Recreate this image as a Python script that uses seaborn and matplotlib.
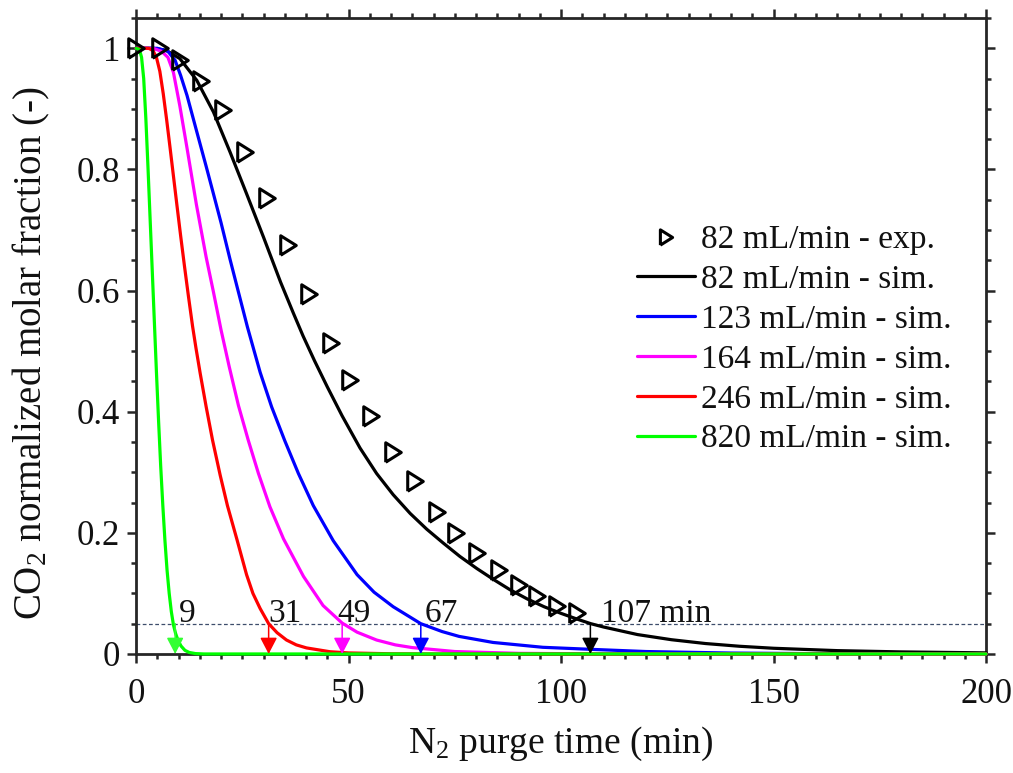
import numpy as np
import pandas as pd
import matplotlib
matplotlib.use("Agg")
import matplotlib.pyplot as plt
from matplotlib.lines import Line2D
import seaborn as sns

# ---------------- data ----------------
exp_t = [0, 5.6, 10.4, 15.4, 20.5, 25.6, 30.7, 35.8, 40.8, 45.9, 50.4, 55.4,
         60.5, 65.6, 70.7, 75.4, 80.3, 85.3, 90.2, 94.4, 99.1, 103.8]
exp_y = [1.0, 1.0, 0.98, 0.946, 0.898, 0.829, 0.752, 0.675, 0.594, 0.514, 0.453,
         0.393, 0.334, 0.286, 0.235, 0.199, 0.166, 0.139, 0.114, 0.095, 0.079, 0.067]

sim82_t = [0, 4, 7, 10.3, 14.3, 18.2, 22.1, 26.0, 30.0, 34.0, 37.0, 39.3, 42.0, 45.0,
           48.5, 52.7, 56.6, 60.5, 64.5, 68.4, 72.3, 76.2, 80.2, 84.1, 88, 92, 96,
           100, 104, 107, 110, 118, 126, 134, 142, 150, 165, 180, 200]
sim82_y = [1.0, 1.0, 0.997, 0.983, 0.947, 0.895, 0.829, 0.760, 0.688, 0.614, 0.563,
           0.525, 0.484, 0.441, 0.393, 0.340, 0.298, 0.263, 0.232, 0.206, 0.183,
           0.161, 0.141, 0.123, 0.106, 0.091, 0.078, 0.067, 0.057, 0.05, 0.0445,
           0.032, 0.0235, 0.0172, 0.0127, 0.0094, 0.0055, 0.0034, 0.0018]

sim123_t = [0, 5, 7.5, 9.2, 10.5, 12, 14.3, 16.5, 18.2, 20, 22.1, 24, 26.2, 29.2, 31.9,
            35, 38.2, 41.7, 46.4, 52, 56, 60.5, 67, 72, 76, 84, 95.7, 107.5, 120,
            140, 160, 200]
sim123_y = [1.0, 1.0, 0.995, 0.98, 0.955, 0.922, 0.862, 0.805, 0.760, 0.712, 0.652,
            0.600, 0.540, 0.465, 0.408, 0.352, 0.298, 0.245, 0.187, 0.131, 0.102,
            0.078, 0.05, 0.037, 0.029, 0.019, 0.011, 0.0075, 0.004, 0.0015, 0.0005, 0.0]

sim164_t = [0, 4, 6, 7.5, 8.8, 10.3, 12, 14.2, 16.5, 18.2, 20, 21.9, 24.1, 26.4, 28.8,
            31.5, 34.7, 39.4, 44, 48.5, 52, 56.6, 61, 65, 75, 90, 110, 200]
sim164_y = [1.0, 1.0, 0.995, 0.985, 0.96, 0.905, 0.835, 0.742, 0.655, 0.598, 0.535,
            0.475, 0.410, 0.353, 0.298, 0.243, 0.190, 0.128, 0.080, 0.051, 0.036,
            0.023, 0.015, 0.0105, 0.004, 0.001, 0.0001, 0.0]

sim246_t = [0, 3, 4.0, 4.8, 5.6, 6.4, 7.2, 8.0, 8.8, 9.6, 10.5, 11.4, 12.3, 13.3, 14.1,
            15.1, 16.5, 18.0, 19.8, 21.5, 23.7, 26, 27.5, 29.2, 31.2, 33.2, 35.4,
            37.7, 40.1, 45.6, 50, 60, 70, 200]
sim246_y = [1.0, 1.0, 0.996, 0.985, 0.962, 0.925, 0.882, 0.836, 0.789, 0.742, 0.690,
            0.640, 0.592, 0.541, 0.505, 0.463, 0.408, 0.353, 0.295, 0.245, 0.190,
            0.131, 0.10, 0.075, 0.05, 0.035, 0.023, 0.015, 0.010, 0.0037, 0.0017,
            0.0003, 0.0, 0.0]

sim820_t = [0, 0.8, 1.3, 1.8, 2.3, 2.8, 3.3, 3.8, 4.3, 4.8, 5.3, 5.8, 6.3, 6.8, 7.3,
            7.8, 8.3, 8.8, 9.3, 9.9, 10.6, 11.5, 12.5, 14, 16, 200]
sim820_y = [1.0, 0.998, 0.985, 0.95, 0.885, 0.805, 0.72, 0.635, 0.55, 0.465, 0.385,
            0.31, 0.245, 0.187, 0.138, 0.100, 0.070, 0.048, 0.034, 0.022, 0.013,
            0.006, 0.0025, 0.0006, 0.0, 0.0]

series_labels = ["82 mL/min - sim.", "123 mL/min - sim.", "164 mL/min - sim.",
                 "246 mL/min - sim.", "820 mL/min - sim."]
exp_label = "82 mL/min - exp."
series_colors = ["#000000", "#0000FF", "#FF00FF", "#FF0000", "#00FF00"]

threshold = 0.05
arrow_x = [9.2, 31.2, 48.5, 67.0, 106.9]
arrow_colors = ["#33FF33", "#FF0000", "#FF00FF", "#0000FF", "#000000"]
arrow_text = ["9", "31", "49", "67", "107 min"]
arrow_text_x = [10.0, 31.1, 47.3, 68.0, 109.3]

# ---------------- style ----------------
sns.set_theme(style="ticks")
plt.rcParams["font.family"] = ["Liberation Serif", "DejaVu Serif"]
plt.rcParams["mathtext.fontset"] = "custom"
plt.rcParams["mathtext.rm"] = "Liberation Serif"
plt.rcParams["mathtext.it"] = "Liberation Serif:italic"

fig = plt.figure(figsize=(10.13, 7.73), dpi=100)
ax = fig.add_axes([0.1343, 0.154, 0.8391, 0.8227])

tri = [(-0.4, -0.5), (0.4, 0.0), (-0.4, 0.5), (-0.4, -0.5)]

sim_t = [sim82_t, sim123_t, sim164_t, sim246_t, sim820_t]
sim_y = [sim82_y, sim123_y, sim164_y, sim246_y, sim820_y]
for t, y, c in zip(sim_t, sim_y, series_colors):
    df = pd.DataFrame({"t": t, "y": y})
    sns.lineplot(data=df, x="t", y="y", ax=ax, color=c, lw=2.3, sort=False,
                 estimator=None, zorder=3, clip_on=False)

df_exp = pd.DataFrame({"t": exp_t, "y": exp_y})
sns.lineplot(data=df_exp, x="t", y="y", ax=ax, linestyle="", marker=tri,
             markersize=14, markerfacecolor="none", markeredgecolor="black",
             markeredgewidth=2.2, color="black", sort=False, estimator=None,
             zorder=5, clip_on=False)

# threshold line
ax.axhline(threshold, color="#3D4D6B", lw=0.9, linestyle=(0, (3, 2)), zorder=2)

# arrows and labels
for xa, c, s, xt in zip(arrow_x, arrow_colors, arrow_text, arrow_text_x):
    ax.annotate("", xy=(xa, 0), xytext=(xa, threshold),
                arrowprops=dict(arrowstyle="-|>,head_length=0.5,head_width=0.26",
                                color=c, lw=1.1, shrinkA=0, shrinkB=0,
                                mutation_scale=20),
                zorder=6)
    ax.text(xt, threshold + 0.003, s, ha="left", va="baseline", fontsize=24,
            color="#111111", zorder=7)

ax.set_xlim(0, 200)
ax.set_ylim(0, 1.05)
ax.set_xticks([0, 50, 100, 150, 200])
ax.set_xticks(np.arange(0, 201, 5), minor=True)
ax.set_yticks([0, 0.2, 0.4, 0.6, 0.8, 1.0])
ax.set_yticks(np.arange(0, 1.051, 0.05), minor=True)
ax.yaxis.set_major_formatter(matplotlib.ticker.FormatStrFormatter("%g"))

spine_c = "#262626"
for sp in ax.spines.values():
    sp.set_visible(True)
    sp.set_color(spine_c)
    sp.set_linewidth(2.0)
ax.tick_params(which="both", direction="out", top=True, right=True,
               labeltop=False, labelright=False, color=spine_c, width=1.8,
               labelcolor="#111111")
ax.tick_params(which="major", length=6.5, labelsize=25)
ax.tick_params(axis="x", which="major", pad=11)
ax.tick_params(axis="y", which="major", pad=5)
ax.tick_params(which="minor", length=3.5)

ax.set_xlabel("N$_2$ purge time (min)", fontsize=27, color="#111111")
ax.set_ylabel("CO$_2$ normalized molar fraction (-)", fontsize=28, color="#111111")
ax.xaxis.set_label_coords(0.499, -0.112)
ax.yaxis.set_label_coords(-0.099, 0.473)

handles = [Line2D([], [], linestyle="", marker=tri, markersize=11,
                  markerfacecolor="none", markeredgecolor="black",
                  markeredgewidth=2.2)]
handles += [Line2D([], [], color=c, lw=2.3) for c in series_colors]
labels = [exp_label] + series_labels
leg = ax.legend(handles, labels, loc="upper left", bbox_to_anchor=(0.589, 0.675),
                frameon=False, fontsize=24, borderpad=0, borderaxespad=0,
                handlelength=1.74, handletextpad=0.2, labelspacing=0.28)
for txt in leg.get_texts():
    txt.set_color("#111111")

fig.savefig("out.png", dpi=100)
